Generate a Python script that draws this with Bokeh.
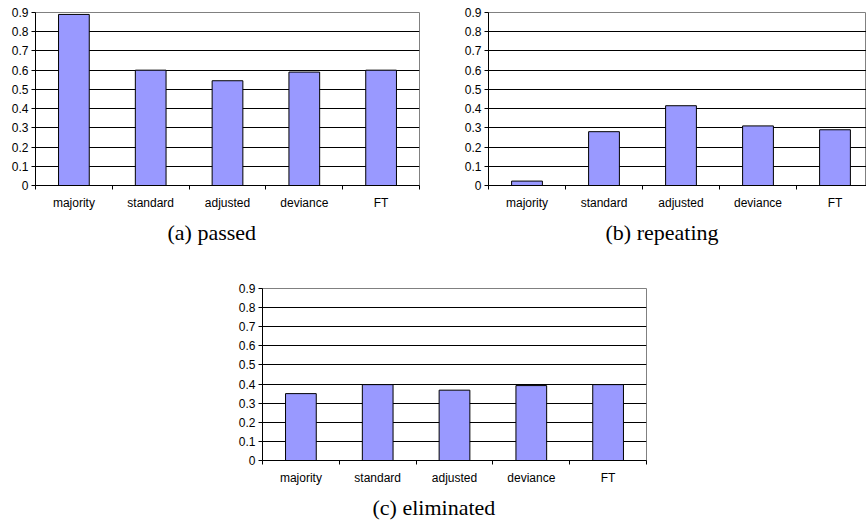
from bokeh.plotting import figure
from bokeh.models import FixedTicker, Range1d, Title, Spacer
from bokeh.layouts import column, row
from bokeh.embed import file_html
from bokeh.resources import INLINE

categories = ["majority", "standard", "adjusted", "deviance", "FT"]
passed = [0.89, 0.60, 0.545, 0.59, 0.60]
repeating = [0.023, 0.28, 0.415, 0.31, 0.29]
eliminated = [0.35, 0.397, 0.368, 0.392, 0.397]
y_ticks = [0, 0.1, 0.2, 0.3, 0.4, 0.5, 0.6, 0.7, 0.8, 0.9]
y_tick_labels = ["0", "0.1", "0.2", "0.3", "0.4", "0.5", "0.6", "0.7", "0.8", "0.9"]
captions = ["(a)  passed", "(b)  repeating", "(c)  eliminated"]


def make_chart(values, caption, width, height, x_end, mb_left, mb_top, mb_bottom, mb_right, cap_offset):
    n = len(categories)
    xs = [i + 0.5 for i in range(n)]
    p = figure(width=width, height=height, x_range=Range1d(0, x_end), y_range=Range1d(0, 0.9),
               output_backend="svg", toolbar_location=None,
               min_border_left=mb_left, min_border_right=mb_right,
               min_border_top=mb_top, min_border_bottom=mb_bottom)
    p.vbar(x=xs, top=values, width=0.4, fill_color="#9999FF", line_color="black", line_width=1)

    p.xaxis.ticker = FixedTicker(ticks=xs, minor_ticks=list(range(n + 1)))
    p.xaxis.major_label_overrides = {x: c for x, c in zip(xs, categories)}
    p.xaxis.major_tick_line_color = None
    p.xaxis.major_tick_out = 4
    p.xaxis.major_tick_in = 0
    p.xaxis.minor_tick_line_color = "black"
    p.xaxis.minor_tick_out = 4
    p.xaxis.minor_tick_in = 0
    p.xaxis.major_label_standoff = 6

    p.yaxis.ticker = FixedTicker(ticks=y_ticks)
    p.yaxis.major_label_overrides = dict(zip(y_ticks, y_tick_labels))
    p.yaxis.major_tick_out = 4
    p.yaxis.major_tick_in = 0
    p.yaxis.minor_tick_line_color = None
    p.yaxis.major_label_standoff = 3

    for ax in (p.xaxis, p.yaxis):
        ax.axis_line_color = "black"
        ax.major_label_text_font = "Liberation Sans"
        ax.major_label_text_font_size = "12px"
        ax.major_label_text_color = "black"

    p.xgrid.visible = False
    p.ygrid.ticker = FixedTicker(ticks=y_ticks)
    p.ygrid.grid_line_color = "black"
    p.ygrid.grid_line_width = 1
    p.outline_line_color = "#808080"
    p.background_fill_color = "white"
    p.border_fill_color = "white"

    p.add_layout(Title(text=caption, align="left", offset=cap_offset,
                       text_font="Liberation Serif", text_font_size="22px",
                       text_font_style="normal", text_color="black", standoff=10), "below")
    return p


pa = make_chart(passed, captions[0], 424, 275, 5, 35, 12, 90, 5, 132)
pb = make_chart(repeating, captions[1], 405, 275, 378 / 77.0, 27, 12, 90, 0, 117)
pc = make_chart(eliminated, captions[2], 416, 249, 5, 27, 13, 63, 5, 110)

layout = column(row(pa, Spacer(width=37), pb), row(Spacer(width=235), pc))

open("out.html", "w").write(file_html(layout, INLINE))
